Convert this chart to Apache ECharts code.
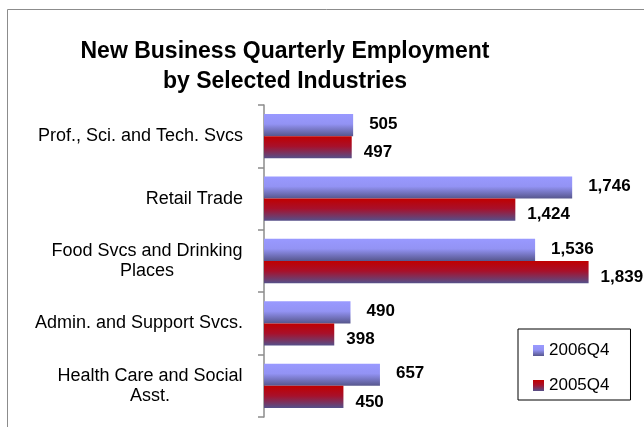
<!DOCTYPE html>
<html>
<head>
<meta charset="utf-8">
<script src="https://cdn.jsdelivr.net/npm/echarts@6/dist/echarts.min.js"></script>
<style>
  html, body { margin: 0; padding: 0; background: #fff; }
  #chart { width: 644px; height: 427px; }
</style>
</head>
<body>
<div id="chart"></div>
<script>
// data
const industries = [
    'Prof., Sci. and Tech. Svcs',
    'Retail Trade',
    'Food Svcs and Drinking\nPlaces',
    'Admin. and Support Svcs.',
    'Health Care and Social\nAsst.'
];
const q2006 = [505, 1746, 1536, 490, 657];
const q2005 = [497, 1424, 1839, 398, 450];
const seriesNames = ['2006Q4', '2005Q4'];

const font = "'Liberation Sans', Arial, sans-serif";
const labelSize = 18;

// excel style gradient fills (top -> bottom)
function fill(top, mid, bottom) {
    return new echarts.graphic.LinearGradient(0, 0, 0, 1, [
        {offset: 0, color: top},
        {offset: 0.45, color: mid},
        {offset: 1, color: bottom}
    ]);
}

// wrapped category names: lines centred under each other, block right aligned
const ctx = document.createElement('canvas').getContext('2d');
ctx.font = labelSize + 'px ' + font;
function blockWidth(value) {
    return Math.ceil(Math.max(...value.split('\n').map(l => ctx.measureText(l).width)));
}
function catLabel(value) {
    const lines = value.split('\n');
    if (lines.length === 1) return value;
    const w = blockWidth(value);
    return lines.map(l => '{c' + w + '|' + l + '}').join('\n');
}
const rich = {};
industries.filter(v => v.includes('\n')).forEach(v => {
    const w = blockWidth(v);
    rich['c' + w] = {width: w, align: 'center', fontFamily: font, fontSize: labelSize, lineHeight: 20, color: '#000'};
});

const myChart = echarts.init(document.getElementById('chart'));
const option = {
    animation: false,
    title: {
        text: 'New Business Quarterly Employment\nby Selected Industries',
        left: 280,
        top: 32,
        textAlign: 'center',
        textStyle: {
            fontFamily: font,
            fontSize: 23,
            fontWeight: 'bold',
            lineHeight: 30,
            color: '#000'
        }
    },
    graphic: [{
        type: 'rect',
        shape: {x: 7.5, y: 9.5, width: 700, height: 500},
        style: {fill: 'none', stroke: '#8c8c8c', lineWidth: 1},
        silent: true
    }],
    legend: {
        data: seriesNames,
        orient: 'vertical',
        left: 518,
        top: 329,
        padding: [13, 21, 6, 15],
        itemGap: 18,
        itemWidth: 11,
        itemHeight: 11,
        icon: 'rect',
        borderColor: '#000',
        borderWidth: 1,
        textStyle: {fontFamily: font, fontSize: 17, color: '#000'}
    },
    grid: {
        left: 264,
        right: 27,
        top: 105,
        bottom: 10,
        containLabel: false,
        outerBoundsMode: 'none'
    },
    xAxis: {
        type: 'value',
        min: 0,
        max: 2000,
        show: false,
        splitLine: {show: false}
    },
    yAxis: {
        type: 'category',
        data: industries,
        inverse: true,
        axisLine: {show: true, lineStyle: {color: '#8c8c8c', width: 1.5}},
        axisTick: {show: true, inside: false, alignWithLabel: false, length: 6,
            lineStyle: {color: '#8c8c8c', width: 1.5}},
        axisLabel: {
            margin: 21,
            fontFamily: font,
            fontSize: labelSize,
            lineHeight: 20,
            color: '#000',
            align: 'right',
            formatter: catLabel,
            rich: rich
        }
    },
    series: [
        {
            name: seriesNames[0],
            type: 'bar',
            data: q2006,
            barGap: '0%',
            barCategoryGap: '29%',
            itemStyle: {color: fill('#9999ff', '#9393f4', '#56568c')},
            label: {
                show: true,
                position: 'right',
                distance: 16,
                offset: [0, -1],
                fontFamily: font,
                fontSize: 17,
                fontWeight: 'bold',
                color: '#000',
                formatter: p => p.value.toLocaleString('en-US')
            }
        },
        {
            name: seriesNames[1],
            type: 'bar',
            data: q2005,
            barGap: '0%',
            barCategoryGap: '29%',
            itemStyle: {color: fill('#c00000', '#a8102a', '#55508a')},
            label: {
                show: true,
                position: 'right',
                distance: 12,
                offset: [0, 5],
                fontFamily: font,
                fontSize: 17,
                fontWeight: 'bold',
                color: '#000',
                formatter: p => p.value.toLocaleString('en-US')
            }
        }
    ]
};
myChart.setOption(option);
</script>
</body>
</html>
